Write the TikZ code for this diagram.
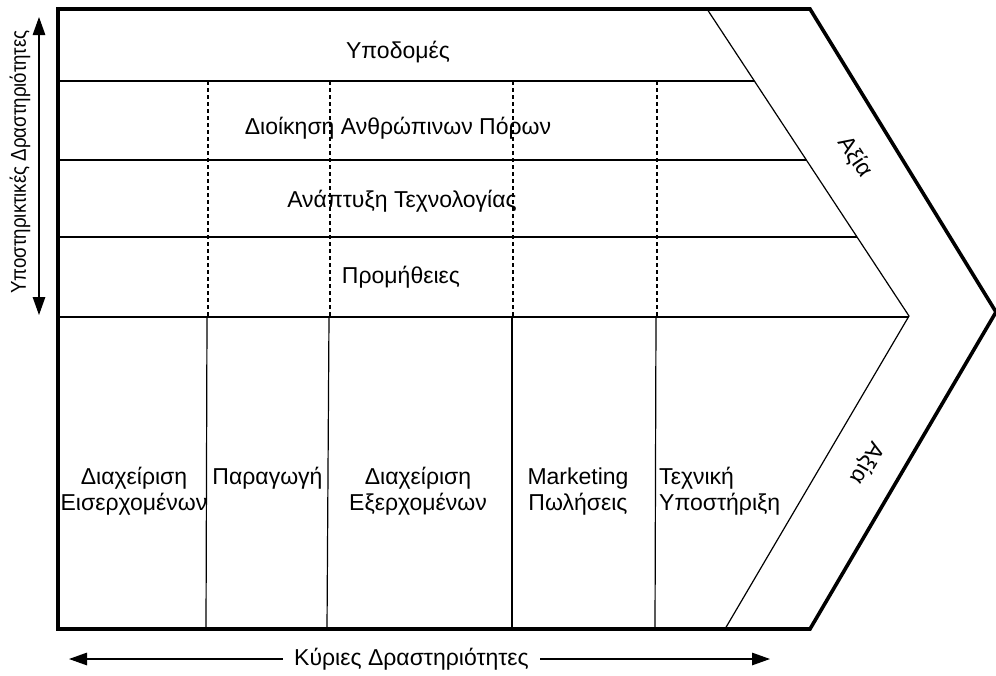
\documentclass[tikz,border=0pt]{standalone}
\usepackage{fontspec}
\setmainfont{Liberation Sans}
\usetikzlibrary{arrows.meta}
\begin{document}
\begin{tikzpicture}[x=1pt,y=-1pt,
  frame/.style={line width=3.6pt, line join=miter},
  rule/.style={line width=1.2pt},
  dashrule/.style={line width=1.1pt, dash pattern=on 4pt off 3pt},
  lbl/.style={font=\fontsize{23}{26}\selectfont, inner sep=0pt, align=center},
  axisline/.style={line width=1.3pt, >={Triangle[length=18pt,width=12.5pt]}}]
\useasboundingbox (0,0) rectangle (996,675);

% outer chevron
\draw[frame] (58,9) -- (810,9) -- (996,312) -- (810,629) -- (58,629) -- cycle;

% inner band of the chevron
\draw[rule] (707,9) -- (909,316) -- (725,629);

% rows of the support activities
\draw[rule] (58,81) -- (754.4,81);
\draw[rule] (58,160) -- (806.4,160);
\draw[rule] (58,237) -- (857,237);
\draw[rule] (58,317) -- (909,317);

% dashed column guides through the support rows
\foreach \x in {208,330,513,657}
  \draw[dashrule] (\x,81) -- (\x,317);

% columns of the primary activities
\draw[rule] (207,317) -- (206,629);
\draw[rule] (329,317) -- (327,629);
\draw[rule] (512,317) -- (512,629);
\draw[rule] (656,317) -- (655,629);

% support activity labels
\node[lbl, anchor=base] (infra) at (398,58) {Υποδομές};
\node[lbl, anchor=base] (hrm) at (398,134) {Διοίκηση Ανθρώπινων Πόρων};
\node[lbl, anchor=base] (tech) at (402,207) {Ανάπτυξη Τεχνολογίας};
\node[lbl, anchor=base] (proc) at (401,283) {Προμήθειες};

% primary activity labels (base anchor sits on the last line)
\node[lbl, anchor=base] (inlog) at (134,510) {Διαχείριση\\Εισερχομένων};
\node[lbl, anchor=base] (ops) at (267.5,484) {Παραγωγή};
\node[lbl, anchor=base] (outlog) at (418,510) {Διαχείριση\\Εξερχομένων};
\node[lbl, anchor=base] (mkt) at (578,510) {Marketing\\Πωλήσεις};
\node[lbl, align=left, anchor=base west] (serv) at (659,510) {Τεχνική\\Υποστήριξη};

% value labels along the chevron band
\node[lbl, rotate=-56.7] (valtop) at (855,157) {Αξία};
\node[lbl, rotate=-120.5] (valbot) at (867,463) {Αξία};

% vertical axis: support activities
\coordinate (vtop) at (39,17);
\coordinate (vbot) at (39,315);
\draw[axisline, <->] (vtop) -- (vbot);
\node[font=\fontsize{21.5}{24}\selectfont, inner sep=0pt, rotate=90] (suplbl) at (20,162)
  {\scalebox{0.87}[1]{Υποστηρικτικές Δραστηριότητες}};

% horizontal axis: primary activities
\node[lbl, inner xsep=11pt] (prilbl) at (411.5,659) {Κύριες Δραστηριότητες};
\coordinate (hleft) at (69,659);
\coordinate (hright) at (770,659);
\draw[axisline, ->] (prilbl.west) -- (hleft);
\draw[axisline, ->] (prilbl.east) -- (hright);
\end{tikzpicture}
\end{document}
